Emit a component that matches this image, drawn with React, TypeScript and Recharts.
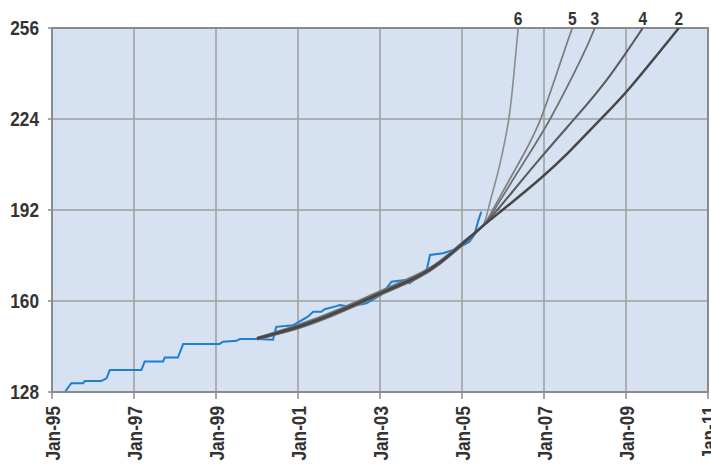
import React from 'react';
import { ComposedChart, Line, XAxis, YAxis, CartesianGrid, ReferenceArea, LabelList } from 'recharts';

const xTicks = [1995, 1997, 1999, 2001, 2003, 2005, 2007, 2009, 2011];
const yTicks = [128, 160, 192, 224, 256];

// Observed (blue) series
const blueT = [1995.33, 1995.35, 1995.47, 1995.76, 1995.80, 1996.20, 1996.33, 1996.41, 1997.18, 1997.26, 1997.71, 1997.75, 1998.07, 1998.20, 1999.09, 1999.17, 1999.50, 1999.58, 1999.99, 2000.39, 2000.47, 2000.88, 2000.96, 2001.24, 2001.37, 2001.57, 2001.65, 2001.94, 2002.02, 2002.26, 2002.67, 2002.95, 2003.03, 2003.28, 2003.60, 2003.72, 2003.89, 2004.13, 2004.22, 2004.54, 2004.90, 2005.18, 2005.30, 2005.39, 2005.47];
const blueV = [128.2, 128.7, 131.1, 131.1, 131.9, 131.9, 132.8, 135.7, 135.7, 138.7, 138.7, 140.1, 140.1, 144.9, 144.9, 145.7, 146.0, 146.6, 146.6, 146.4, 150.9, 151.5, 152.1, 154.5, 156.2, 156.2, 157.1, 158.2, 158.6, 158.0, 159.2, 161.5, 162.1, 166.8, 167.4, 166.2, 168.0, 170.3, 176.2, 176.8, 178.5, 180.8, 183.2, 187.9, 191.4];

// Fitted curves (labelled by polynomial order)
const fit2T = [2000.0, 2001.05, 2002.02, 2003.0, 2003.9, 2004.46, 2005.0, 2005.48, 2006.04, 2006.90, 2007.63, 2008.36, 2009.09, 2010.29];
const fit2V = [146.8, 151.2, 156.5, 162.7, 168.5, 173.5, 180.0, 186.0, 192.6, 202.9, 212.7, 223.6, 234.9, 256.0];
const fit3T = [2000.0, 2001.05, 2002.02, 2003.0, 2003.9, 2004.46, 2005.0, 2005.48, 2005.80, 2006.57, 2007.18, 2007.91, 2008.24];
const fit3V = [147.0, 151.7, 157.0, 163.2, 169.0, 173.9, 180.4, 186.0, 192.3, 210.2, 224.8, 245.3, 256.0];
const fit4T = [2000.0, 2001.05, 2002.02, 2003.0, 2003.9, 2004.46, 2005.0, 2005.48, 2005.92, 2006.85, 2007.80, 2008.60, 2009.41];
const fit4V = [146.6, 150.8, 156.1, 162.3, 168.1, 173.2, 179.7, 186.0, 193.0, 209.2, 225.0, 239.1, 256.0];
const fit5T = [2000.0, 2001.05, 2002.02, 2003.0, 2003.9, 2004.46, 2005.0, 2005.48, 2005.76, 2006.45, 2006.94, 2007.42, 2007.69];
const fit5V = [147.1, 151.9, 157.3, 163.5, 169.3, 174.1, 180.5, 186.0, 192.3, 210.2, 224.8, 244.7, 256.0];
const fit6T = [2000.0, 2001.05, 2002.02, 2003.0, 2003.9, 2004.46, 2005.0, 2005.48, 2005.64, 2005.86, 2006.00, 2006.15, 2006.27, 2006.37];
const fit6V = [146.4, 150.5, 155.8, 162.0, 167.8, 172.9, 179.4, 186.0, 192.3, 204.3, 213.1, 224.8, 240.5, 256.0];

const zip = (t: number[], v: number[]) => t.map((tt, i) => ({ t: tt, v: v[i] }));

const blueData = zip(blueT, blueV);
const fits = [
  { name: '6', data: zip(fit6T, fit6V), color: '#8c8c8c', width: 1.6 },
  { name: '5', data: zip(fit5T, fit5V), color: '#7d7d7d', width: 1.7 },
  { name: '3', data: zip(fit3T, fit3V), color: '#717171', width: 1.8 },
  { name: '4', data: zip(fit4T, fit4V), color: '#5c5c5c', width: 2.1 },
  { name: '2', data: zip(fit2T, fit2V), color: '#474747', width: 2.5 },
];

const FONT = '"Liberation Sans", Arial, sans-serif';

const fmtYear = (y: number) => `Jan-${String(y % 100).padStart(2, '0')}`;

const XTick = (props: any) => {
  const { x, payload } = props;
  return (
    <g transform={`translate(${x},406) rotate(-90) scale(0.82,1)`}>
      <text textAnchor="end" dy="0.36em" fontFamily={FONT} fontWeight={700} fontSize={21} fill="#333">
        {fmtYear(payload.value)}
      </text>
    </g>
  );
};

const YTick = (props: any) => {
  const { x, y, payload } = props;
  return (
    <g transform={`translate(${x},${y}) scale(0.82,1)`}>
      <text textAnchor="end" dy="0.34em" fontFamily={FONT} fontWeight={700} fontSize={21} fill="#333">
        {payload.value}
      </text>
    </g>
  );
};

const makeEndLabel = (label: string) => (p: any) => {
  if (p.value !== 256) return null;
  return (
    <g transform={`translate(${p.x},${p.y - 3}) scale(0.82,1)`}>
      <text textAnchor="middle" fontFamily={FONT} fontWeight={700} fontSize={19} fill="#333">
        {label}
      </text>
    </g>
  );
};

export default function App() {
  return (
    <div style={{ position: 'absolute', left: 0, top: 0, background: '#fff' }}>
      <ComposedChart width={711} height={468} margin={{ top: 28, right: 3, bottom: 0, left: 0 }}>
        <CartesianGrid fill="#d6e1f2" stroke="#9c9c9c" strokeWidth={1.5} />
        <XAxis
          dataKey="t"
          type="number"
          domain={[1995, 2011]}
          ticks={xTicks}
          height={76}
          tick={<XTick />}
          tickSize={7}
          tickLine={{ stroke: '#8a8a8a', strokeWidth: 1.5 }}
          axisLine={{ stroke: '#8a8a8a', strokeWidth: 2 }}
          interval={0}
          allowDataOverflow
        />
        <YAxis
          dataKey="v"
          type="number"
          domain={[128, 256]}
          ticks={yTicks}
          width={52}
          tickSize={4}
          tickMargin={9}
          tick={<YTick />}
          tickLine={{ stroke: '#8a8a8a', strokeWidth: 1.5 }}
          axisLine={{ stroke: '#8a8a8a', strokeWidth: 2 }}
          interval={0}
          allowDataOverflow
        />
        <ReferenceArea x1={1995} x2={2011} y1={128} y2={256} fill="none" stroke="#8a8a8a" strokeWidth={2} ifOverflow="visible" />
        <Line data={blueData} dataKey="v" type="linear" stroke="#1d7fd2" strokeWidth={2} dot={false} isAnimationActive={false} />
        {fits.map((f) => (
          <Line key={f.name} data={f.data} dataKey="v" type="natural" stroke={f.color} strokeWidth={f.width} dot={false} isAnimationActive={false}>
            <LabelList dataKey="v" content={makeEndLabel(f.name)} />
          </Line>
        ))}
      </ComposedChart>
    </div>
  );
}
